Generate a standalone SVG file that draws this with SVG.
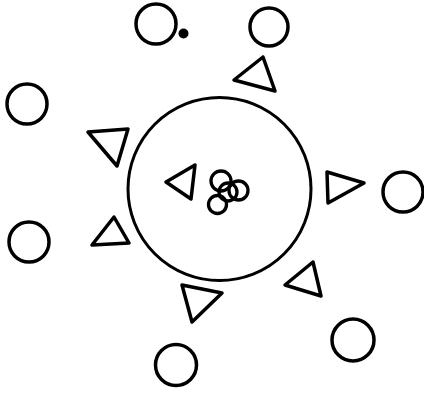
<svg xmlns="http://www.w3.org/2000/svg" width="424" height="394" viewBox="0 0 424 394">
<style>
.s{fill:none;stroke:#000;stroke-width:3.5;stroke-linejoin:round}
.b{fill:none;stroke:#000;stroke-width:3}
.c{fill:none;stroke:#000;stroke-width:3.3}
</style>
<rect width="424" height="394" fill="#fff"/>
<g id="big-circle"><circle class="b" cx="219.5" cy="189" r="91.5"/></g>
<g id="c-top-left"><circle class="s" cx="156" cy="24" r="20"/></g>
<g id="dot"><circle cx="183.5" cy="33.5" r="5" fill="#000"/></g>
<g id="c-top-right"><circle class="s" cx="269" cy="27" r="19"/></g>
<g id="c-left-top"><circle class="s" cx="27" cy="104" r="20"/></g>
<g id="c-left-bottom"><circle class="s" cx="29" cy="242" r="20"/></g>
<g id="c-right"><circle class="s" cx="403" cy="192" r="20"/></g>
<g id="c-bottom"><circle class="s" cx="176" cy="365" r="20.5"/></g>
<g id="c-bottom-right"><circle class="s" cx="353" cy="340" r="21"/></g>
<g id="t-top-right"><polygon class="s" points="263,57 234,80 275,91"/></g>
<g id="t-left-top"><polygon class="s" points="88,132 128,129 117,166"/></g>
<g id="t-left-bottom"><polygon class="s" points="114,217 92,245 129,243"/></g>
<g id="t-right"><polygon class="s" points="327,172 364,183 328,203"/></g>
<g id="t-bottom"><polygon class="s" points="182,285 222,293 192,322"/></g>
<g id="t-bottom-right"><polygon class="s" points="313,262 285,285 321,296"/></g>
<g id="t-inner"><polygon class="s" points="195,165 166,182 191,199"/></g>
<g id="cluster">
<circle class="c" cx="221" cy="181" r="10"/>
<circle class="c" cx="228" cy="192" r="9"/>
<circle class="c" cx="238.5" cy="190.5" r="9.5"/>
<circle class="c" cx="217.5" cy="204.5" r="9"/>
</g>
<g id="connectors"></g>
</svg>
